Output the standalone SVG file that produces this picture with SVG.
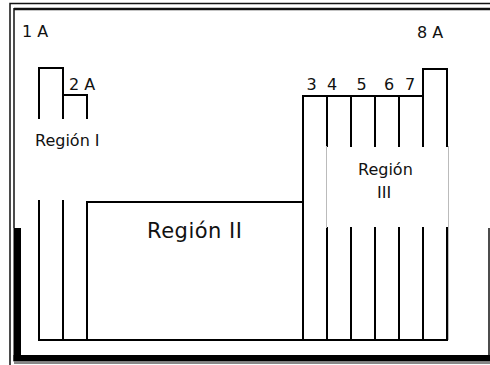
<svg xmlns="http://www.w3.org/2000/svg" width="490" height="365" viewBox="0 0 490 365">
<style>
.ln{fill:none;stroke:#000;stroke-width:2;stroke-linecap:square}
.fr{fill:none;stroke:#111}
.t{font-family:"DejaVu Sans",Verdana,sans-serif;font-size:16px;fill:#111}
.big{font-size:21px;letter-spacing:0.5px}
</style>
<rect width="490" height="365" fill="#fff"/>
<g id="frame">
<path class="fr" stroke-width="1.5" d="M10,365 V3.5 H490"/>
<path class="fr" stroke-width="2.5" d="M14,9 H490"/>
<path class="fr" stroke-width="1.5" d="M14,8 V228"/>
<rect x="13.5" y="228" width="7.5" height="133" fill="#000"/>
<rect x="13.5" y="355" width="476.5" height="6.5" fill="#000"/>
<path class="fr" stroke="#555" stroke-width="1" d="M14,363 H490"/>
<path class="fr" stroke-width="1.5" d="M489,228 V355"/>
</g>
<g id="connectors">
<path class="ln" d="M39,118 V68 H63 V118 M63,95 H87 V118"/>
<path class="ln" d="M39,201 V340 H447 M63,201 V340 M87,340 V202 H303"/>
<path class="ln" d="M303,340 V96 H423 M423,146 V69 H447 V146"/>
<path class="ln" d="M327,96 V146 M351,96 V146 M375,96 V146 M399,96 V146"/>
<path class="ln" d="M327,228 V340 M351,228 V340 M375,228 V340 M399,228 V340 M423,228 V340 M447,228 V340"/>
<path fill="none" stroke="#bbb" stroke-width="1" d="M326.5,146 V228 M448.5,146 V340"/>
</g>
<g id="group-1A"><text class="t" x="22" y="37">1 A</text></g>
<g id="group-2A"><text class="t" x="69" y="90">2 A</text></g>
<g id="group-3"><text class="t" x="306.5" y="90">3</text></g>
<g id="group-4"><text class="t" x="327" y="90">4</text></g>
<g id="group-5"><text class="t" x="356.5" y="90">5</text></g>
<g id="group-6"><text class="t" x="384" y="90">6</text></g>
<g id="group-7"><text class="t" x="405" y="90">7</text></g>
<g id="group-8A"><text class="t" x="417" y="38">8 A</text></g>
<g id="region-1"><text class="t" x="35" y="146">Región I</text></g>
<g id="region-2"><text class="t big" x="147" y="238">Región II</text></g>
<g id="region-3"><text class="t" x="358" y="175">Región</text><text class="t" x="377" y="198">III</text></g>
</svg>
